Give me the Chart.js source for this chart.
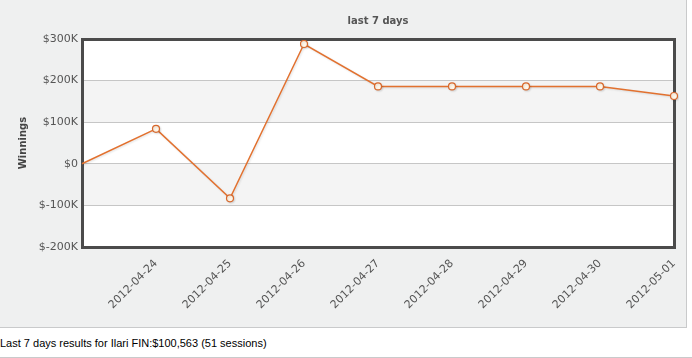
<!DOCTYPE html>
<html>
<head>
<meta charset="utf-8">
<script src="https://cdn.jsdelivr.net/npm/chart.js@4"></script>
<style>
  body { margin: 0; background: #fff; }
  #panel {
    position: absolute; left: 0; top: 0;
    width: 686px; height: 327px;
    background: #eff0f0;
    border-right: 1px solid #c9cacb;
    border-bottom: 1px solid #c9cacb;
  }
  #caption {
    position: absolute; left: 0; top: 328px;
    width: 692px; height: 29px;
    border-bottom: 1px solid #c9cacb;
    font: 11px "Liberation Sans", Arial, sans-serif;
    color: #000;
    line-height: 30px;
  }
</style>
</head>
<body>
<div id="panel"><canvas id="winningsChart" width="686" height="327"></canvas></div>
<div id="caption">Last 7 days results for Ilari FIN:$100,563 (51 sessions)</div>
<script>
// data
const days = ["", "2012-04-24", "2012-04-25", "2012-04-26", "2012-04-27",
  "2012-04-28", "2012-04-29", "2012-04-30", "2012-05-01"];
const winnings = [0, 84000, -83000, 288000, 186000, 186000, 186000, 186000, 163000];
const yMin = -200000;
const yMax = 300000;
const yStep = 100000;

const axisFont = { family: "'DejaVu Sans', Verdana, sans-serif", size: 11 };

// alternating bands + plot frame
const plotFrame = {
  id: "plotFrame",
  beforeDraw(chart) {
    const { ctx, chartArea: a, scales: { y } } = chart;
    ctx.save();
    ctx.fillStyle = "#ffffff";
    ctx.fillRect(a.left, a.top, a.right - a.left, a.bottom - a.top);
    let i = 0;
    for (let v = yMax; v > yMin; v -= yStep, i++) {
      if (i % 2 === 1) {
        const t = y.getPixelForValue(v);
        const b = y.getPixelForValue(v - yStep);
        ctx.fillStyle = "#f4f4f4";
        ctx.fillRect(a.left, t, a.right - a.left, b - t);
      }
    }
    ctx.restore();
  },
  beforeDatasetsDraw(chart) {
    const { ctx, chartArea: a } = chart;
    ctx.save();
    ctx.strokeStyle = "#4b4b4b";
    ctx.lineWidth = 3;
    ctx.strokeRect(a.left + 0.5, a.top + 0.5, a.right - a.left, a.bottom - a.top);
    // title centred over the plot
    ctx.fillStyle = "#555";
    ctx.font = "bold 10px 'DejaVu Sans', Verdana, sans-serif";
    ctx.textAlign = "center";
    ctx.textBaseline = "middle";
    ctx.fillText("last 7 days", (a.left + a.right) / 2, 21);
    ctx.restore();
  },
  beforeDatasetDraw(chart) {
    const ctx = chart.ctx;
    ctx.save();
    ctx.shadowColor = "rgba(0,0,0,0.12)";
    ctx.shadowOffsetX = 1;
    ctx.shadowOffsetY = 1;
    ctx.shadowBlur = 2;
  },
  afterDatasetDraw(chart) {
    chart.ctx.restore();
  },
};

const ctxWinnings = document.getElementById("winningsChart").getContext("2d");
const winningsChart = new Chart(ctxWinnings, {
  type: "line",
  data: {
    labels: days,
    datasets: [
      {
        label: "Winnings",
        data: winnings,
        borderColor: "#e2712f",
        borderWidth: 1.5,
        tension: 0,
        // starting point has no marker in the original
        pointRadius: (c) => (c.dataIndex === 0 ? 0 : 3.5),
        pointBorderWidth: 1.2,
        pointBackgroundColor: "#fff6e8",
        pointBorderColor: "#d8682c",
      },
    ],
  },
  options: {
    responsive: false,
    animation: false,
    layout: { padding: { top: 39, right: 12, left: 0, bottom: 0 } },
    plugins: {
      legend: { display: false },
      tooltip: { enabled: false },
    },
    scales: {
      x: {
        grid: { display: false },
        border: { display: false },
        ticks: {
          autoSkip: false,
          minRotation: 45,
          maxRotation: 45,
          padding: 2,
          color: "#555",
          font: axisFont,
        },
        afterFit(scale) { scale.height = 80; },
      },
      y: {
        min: yMin,
        max: yMax,
        grid: { color: "#c6c6c6", drawTicks: false },
        border: { display: false },
        ticks: {
          stepSize: yStep,
          padding: 4,
          color: "#555",
          font: axisFont,
          callback: (v) => (v === 0 ? "$0" : "$" + v / 1000 + "K"),
        },
        title: {
          display: true,
          text: "Winnings",
          color: "#444",
          font: { family: "'DejaVu Sans', Verdana, sans-serif", size: 10, weight: "bold" },
          padding: { top: 17, bottom: 0 },
        },
        afterFit(scale) { scale.width = 82; },
      },
    },
  },
  plugins: [plotFrame],
});
</script>
</body>
</html>
